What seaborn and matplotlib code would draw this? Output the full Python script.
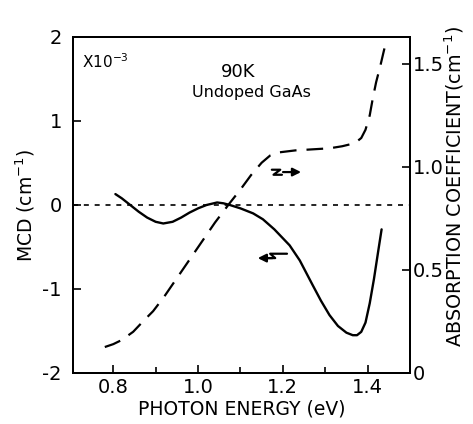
import numpy as np
import pandas as pd
import matplotlib
matplotlib.use("Agg")
import matplotlib.pyplot as plt
import seaborn as sns

# MCD curve (left axis, x10^-3 cm^-1)
energy_mcd = [0.805, 0.82, 0.84, 0.86, 0.88, 0.90, 0.918, 0.94, 0.96, 0.98,
              1.0, 1.02, 1.045, 1.06, 1.075, 1.10, 1.13, 1.153, 1.18, 1.216,
              1.24, 1.27, 1.29, 1.31, 1.33, 1.35, 1.365, 1.375, 1.385, 1.395,
              1.405, 1.415, 1.425, 1.433]
mcd = [0.13, 0.08, 0.0, -0.08, -0.15, -0.2, -0.22, -0.2, -0.15, -0.09,
       -0.04, 0.0, 0.03, 0.02, 0.0, -0.04, -0.1, -0.17, -0.29, -0.48,
       -0.66, -0.95, -1.14, -1.31, -1.44, -1.52, -1.55, -1.55, -1.51, -1.40,
       -1.17, -0.88, -0.55, -0.29]

# absorption coefficient (right axis, cm^-1)
energy_abs = [0.78, 0.80, 0.82, 0.847, 0.87, 0.894, 0.92, 0.95, 0.98, 1.01,
              1.04, 1.075, 1.10, 1.125, 1.15, 1.17, 1.19, 1.23, 1.27, 1.31,
              1.34, 1.37, 1.385, 1.395, 1.405, 1.412, 1.42, 1.43, 1.438, 1.445]
absorption = [0.126, 0.14, 0.16, 0.20, 0.25, 0.30, 0.37, 0.46, 0.55, 0.64,
              0.73, 0.825, 0.89, 0.96, 1.02, 1.055, 1.07, 1.08, 1.085, 1.09,
              1.10, 1.115, 1.14, 1.18, 1.25, 1.33, 1.41, 1.49, 1.56, 1.62]

left_ticks = [-2, -1, 0, 1, 2]
right_ticks = [0, 0.5, 1.0, 1.5]
right_labels = ["0", "0.5", "1.0", "1.5"]
x_ticks = [0.8, 1.0, 1.2, 1.4]
x_labels = ["0.8", "1.0", "1.2", "1.4"]

df_mcd = pd.DataFrame({"energy": energy_mcd, "mcd": mcd})
df_abs = pd.DataFrame({"energy": energy_abs, "alpha": absorption})

sns.set_style("ticks")
plt.rcParams["font.family"] = ["DejaVu Sans"]
plt.rcParams["text.color"] = "black"
plt.rcParams["axes.labelcolor"] = "black"
plt.rcParams["xtick.color"] = "black"
plt.rcParams["ytick.color"] = "black"
plt.rcParams["axes.edgecolor"] = "black"

fig = plt.figure(figsize=(4.73, 4.24), dpi=100)
ax = fig.add_axes([73 / 473, 51 / 424, 337 / 473, 336 / 424])
ax2 = ax.twinx()

sns.lineplot(data=df_mcd, x="energy", y="mcd", ax=ax, color="black", lw=1.7)
ax.axhline(0, color="black", lw=1.2, ls=(0, (3, 3.5)))
sns.lineplot(data=df_abs, x="energy", y="alpha", ax=ax2, color="black", lw=1.6)
ax2.lines[0].set_linestyle((0, (7.5, 4.5)))

ax.set_xlim(0.705, 1.5)
ax.set_ylim(-2, 2)
ax2.set_ylim(0, 1.63)

ax.set_xticks(x_ticks)
ax.set_xticklabels(x_labels)
ax.set_xticks([0.9, 1.1, 1.3], minor=True)
ax.set_yticks(left_ticks)
ax.set_yticklabels([str(t) for t in left_ticks])
ax2.set_yticks(right_ticks)
ax2.set_yticklabels(right_labels)

for a in (ax, ax2):
    a.tick_params(direction="in", length=6, width=1.2, labelsize=14)
    a.tick_params(which="minor", direction="in", length=4, width=1.2)
    for s in a.spines.values():
        s.set_linewidth(1.4)
        s.set_visible(True)
ax.tick_params(axis="y", pad=8)
ax2.tick_params(axis="y", pad=2)

ax.set_xlabel("PHOTON ENERGY (eV)", fontsize=13.5, labelpad=2)
ax.set_ylabel("MCD (cm$^{-1}$)", fontsize=13.5, labelpad=4)
ax2.set_ylabel("ABSORPTION COEFFICIENT(cm$^{-1}$)", fontsize=13.8)
ax2.yaxis.set_label_coords(1.095, 0.555)

ax.text(0.027, 0.926, "X10$^{-3}$", transform=ax.transAxes, fontsize=11,
        va="center", ha="left")
ax.text(0.49, 0.896, "90K", transform=ax.transAxes, fontsize=13,
        va="center", ha="center")
ax.text(0.53, 0.836, "Undoped GaAs", transform=ax.transAxes, fontsize=11.5,
        va="center", ha="center")

# arrows pointing to their axes
ax.annotate("", xy=(0.685, 0.598), xytext=(0.615, 0.598), xycoords="axes fraction",
            arrowprops=dict(arrowstyle="-|>", color="black", lw=1.6,
                            mutation_scale=12))
ax.plot([0.59, 0.615, 0.595, 0.62], [0.605, 0.605, 0.59, 0.59],
        transform=ax.transAxes, color="black", lw=1.6)
ax.annotate("", xy=(0.54, 0.342), xytext=(0.6, 0.342), xycoords="axes fraction",
            arrowprops=dict(arrowstyle="-|>", color="black", lw=1.6,
                            mutation_scale=12))
ax.plot([0.575, 0.6, 0.585, 0.635], [0.342, 0.342, 0.355, 0.355],
        transform=ax.transAxes, color="black", lw=1.6)

fig.savefig("out.png", dpi=100)
